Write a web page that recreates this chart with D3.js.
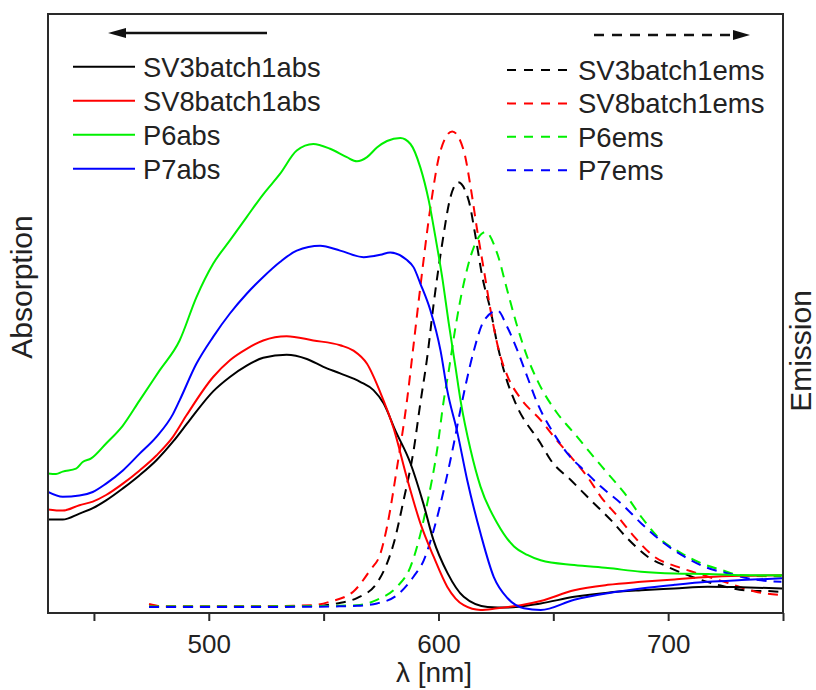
<!DOCTYPE html>
<html>
<head>
<meta charset="utf-8">
<script src="https://cdn.jsdelivr.net/npm/d3@7"></script>
<style>
  html, body { margin: 0; padding: 0; background: #fff; }
  svg { display: block; }
  text { font-family: "Liberation Sans", Arial, sans-serif; fill: #222; }
</style>
</head>
<body>
<svg id="chart" width="816" height="690"></svg>
<script>
// Wavelength (nm) / intensity (a.u.) pairs for each spectrum
const sv3Abs = [[430,15.6],[436.4,15.6],[443.7,16.6],[449.5,17.5],[455.3,18.8],[462.6,20.8],[469.9,23.0],[477.2,25.5],[484.4,28.6],[491.7,32.2],[501.9,37.0],[509.2,39.4],[516.5,41.3],[523.7,42.6],[533.9,43.1],[542.7,42.4],[549.9,41.1],[557.2,40.0],[565.9,38.6],[571.7,37.2],[576.1,35.0],[581.2,30.5],[587.8,25.0],[593.4,18.3],[597.8,12.2],[603.9,6.7],[611,2.7],[621.4,1.0],[630,0.9],[644.5,1.6],[659.1,2.7],[673.7,3.4],[688.2,3.8],[702.8,4.1],[717.3,4.4],[731.9,4.3],[750,4.1]];
const sv8Abs = [[430,17.3],[436.4,17.1],[443.7,18.0],[449.5,18.6],[455.3,19.7],[462.6,21.6],[469.9,23.8],[477.2,26.3],[484.4,29.4],[490.3,33.0],[501.9,39.4],[509.2,42.2],[516.5,44.1],[523.7,45.5],[533.9,46.2],[545.5,45.5],[557.2,44.7],[563,43.8],[568.9,41.6],[574.7,36.8],[580.5,30.8],[586.3,22.5],[592.1,15.0],[597.9,9.4],[603.8,4.4],[611,1.3],[618.3,0.5],[625.6,0.8],[635.8,1.3],[644.5,2.0],[659.1,3.8],[673.7,4.7],[688.2,5.2],[702.8,5.6],[717.3,6.0],[731.9,6.2],[750,6.3]];
const p6Abs = [[430,23.3],[433.5,23.2],[436.4,23.6],[442.2,24.1],[445.1,25.2],[448.8,25.8],[455.3,28.3],[462.6,31.3],[469.9,35.5],[478.6,40.5],[487.3,45.5],[494.6,52.7],[501.9,58.3],[509.2,62.2],[516.5,66.1],[523.7,69.9],[531,73.3],[538.3,77.2],[545.5,78.3],[552.8,77.5],[560.1,76.1],[564.5,75.4],[568.9,76.1],[573.2,77.7],[577.6,78.8],[583.4,79.3],[587.8,78.3],[592.1,74.4],[595.8,68.8],[598.7,62.7],[601.6,56.1],[604.5,48.3],[607.4,41.1],[609.6,35.5],[614,27.2],[618.3,21.1],[625.6,15.0],[632.9,11.1],[638.7,9.7],[644.5,8.8],[659.1,8.0],[673.7,7.5],[688.2,6.9],[702.8,6.6],[717.3,6.5],[731.9,6.3],[750,6.3]];
const p7Abs = [[430,20.2],[436.4,19.4],[443.7,19.6],[449.5,20.2],[455.3,21.6],[462.6,23.8],[469.9,26.6],[477.2,29.4],[484.4,33.2],[487.3,35.5],[494.6,41.6],[501.9,46.1],[509.2,50.0],[516.5,53.3],[523.7,56.1],[531,58.6],[538.3,60.5],[548.5,61.3],[557.2,60.5],[567.4,59.4],[574.7,59.8],[579,60.2],[586,59.0],[589.2,57.7],[592.1,55.0],[596.5,50.5],[600.9,43.8],[603.8,37.2],[608.2,30.2],[612.5,22.2],[618.3,13.3],[624.1,6.0],[630,2.5],[637.2,0.8],[644.5,0.5],[659.1,2.2],[673.7,3.3],[688.2,4.1],[702.8,4.7],[717.3,5.2],[731.9,5.5],[750,5.8]];

const sv3Ems = [[474,1.1],[520,1.1],[548,1.2],[555.8,1.6],[564.5,2.5],[573.2,5.0],[577.6,8.3],[580.5,11.6],[584.8,18.8],[589.2,27.2],[592.1,35.0],[595.1,42.7],[597.9,51.6],[601.6,61.6],[605.2,69.4],[608.6,71.9],[613.2,68.8],[616.2,62.7],[619.1,56.1],[622.7,50.5],[625.6,44.9],[629.3,39.4],[633.6,35.0],[644.5,28.3],[648.9,25.5],[657.6,22.2],[666.4,18.8],[675.1,15.5],[682.4,12.4],[691.1,9.4],[699.9,7.7],[710,6.1],[721.7,4.7],[733.3,3.8],[746.4,3.6],[750,3.5]];
const sv8Ems = [[474,1.5],[480,1.1],[520,1.1],[545,1.3],[552.8,1.9],[563,3.6],[570.3,7.2],[574.7,9.9],[577.6,14.4],[582,24.4],[586.3,35.5],[589.2,44.9],[592.1,54.4],[596.5,67.7],[600.9,77.2],[606,80.4],[611,77.2],[614,71.1],[616.9,63.8],[619.8,57.2],[622.7,50.5],[626.3,43.8],[630,39.6],[635.8,35.8],[644.5,32.2],[650.3,29.4],[657.6,26.1],[664.9,22.7],[670.7,19.4],[678.1,16.1],[685.3,12.7],[694,9.4],[704.2,7.7],[713,6.6],[726.1,5.0],[737.7,3.6],[749.3,3.0]];
const p6Ems = [[474,1.1],[520,1.1],[555,1.2],[564.5,1.3],[573.2,2.2],[582,4.4],[587.8,7.7],[590.7,11.1],[595.1,18.3],[599.4,27.2],[602.3,35.5],[604.5,40.5],[607.4,47.7],[611,55.0],[615.4,61.1],[620.5,63.6],[625.6,60.0],[630,53.8],[634.4,47.7],[638.7,42.7],[643.1,38.8],[651.8,33.3],[659.1,30.0],[666.4,26.6],[673.7,23.3],[681,20.0],[688.2,16.1],[695.5,12.7],[705.7,10.0],[714.4,8.3],[723.1,7.2],[731.9,6.3],[749.3,6.1]];
const p7Ems = [[474,1.0],[520,1.0],[555,1.1],[564.5,1.2],[573.2,1.6],[582,3.0],[589.2,6.1],[593.6,8.8],[597.9,13.8],[602.3,20.5],[606.7,28.3],[609.6,34.0],[611.8,38.0],[615.4,43.8],[619.8,48.8],[625.6,50.5],[630,47.7],[634.4,43.8],[638.7,39.4],[643.1,35.0],[650.3,29.9],[656.2,26.6],[663.4,23.8],[670.7,21.1],[679.5,18.3],[688.2,15.0],[698.4,11.6],[707.1,9.4],[715.9,7.7],[726.1,6.6],[739.2,5.5],[749.3,5.2]];

const absNames = ["SV3batch1abs", "SV8batch1abs", "P6abs", "P7abs"];
const emsNames = ["SV3batch1ems", "SV8batch1ems", "P6ems", "P7ems"];
const seriesColors = ["#000000", "#ff0000", "#00f000", "#0000ff"];
const xTicks = [450, 500, 550, 600, 650, 700, 750];
const xTickLabels = ["", "500", "", "600", "", "700", ""];

const absSeries = [sv3Abs, sv8Abs, p6Abs, p7Abs];
const emsSeries = [sv3Ems, sv8Ems, p6Ems, p7Ems];

// Plot box
const box = { left: 48, right: 783, top: 14, bottom: 613 };
const svg = d3.select("#chart");

const x = d3.scaleLinear().domain([430, 750]).range([box.left, box.right]);
const yAbs = d3.scaleLinear().domain([0, 100]).range([box.bottom, box.top]);
const yEms = d3.scaleLinear().domain([0, 100]).range([box.bottom, box.top]);

svg.append("defs").append("clipPath").attr("id", "plotClip")
  .append("rect")
  .attr("x", box.left).attr("y", box.top)
  .attr("width", box.right - box.left).attr("height", box.bottom - box.top);

const plot = svg.append("g").attr("clip-path", "url(#plotClip)");
const DASH = "10,7";

const absLine = d3.line().x(d => x(d[0])).y(d => yAbs(d[1])).curve(d3.curveMonotoneX);
const emsLine = d3.line().x(d => x(d[0])).y(d => yEms(d[1])).curve(d3.curveMonotoneX);

// Emission spectra (dashed)
emsSeries.forEach((s, i) => {
  plot.append("path").datum(s)
    .attr("d", emsLine)
    .attr("fill", "none")
    .attr("stroke", seriesColors[i])
    .attr("stroke-width", 2)
    .attr("stroke-dasharray", DASH);
});

// Absorption spectra (solid)
absSeries.forEach((s, i) => {
  plot.append("path").datum(s)
    .attr("d", absLine)
    .attr("fill", "none")
    .attr("stroke", seriesColors[i])
    .attr("stroke-width", 2);
});

// Frame
svg.append("rect")
  .attr("x", box.left).attr("y", box.top)
  .attr("width", box.right - box.left).attr("height", box.bottom - box.top)
  .attr("fill", "none").attr("stroke", "#2a2a2a").attr("stroke-width", 2);

// Bottom axis
const xAxis = d3.axisBottom(x)
  .tickValues(xTicks)
  .tickSize(8)
  .tickPadding(14)
  .tickFormat((d, i) => xTickLabels[i]);

const axisG = svg.append("g")
  .attr("transform", `translate(0,${box.bottom})`)
  .call(xAxis);
axisG.select(".domain").remove();
axisG.selectAll(".tick line").attr("stroke", "#2a2a2a").attr("stroke-width", 2);
axisG.selectAll(".tick text")
  .attr("font-size", 26)
  .attr("font-family", "'Liberation Sans', Arial, sans-serif")
  .attr("fill", "#222");

// Axis titles
svg.append("text")
  .attr("x", 434).attr("y", 682)
  .attr("text-anchor", "middle")
  .attr("font-size", 28)
  .text("λ [nm]");

svg.append("text")
  .attr("transform", "translate(32,287) rotate(-90)")
  .attr("text-anchor", "middle")
  .attr("font-size", 30)
  .text("Absorption");

svg.append("text")
  .attr("transform", "translate(811,351) rotate(-90)")
  .attr("text-anchor", "middle")
  .attr("font-size", 30)
  .text("Emission");

// Direction arrows: absorption reads on the left, emission on the right
svg.append("line")
  .attr("x1", 267).attr("x2", 122).attr("y1", 33).attr("y2", 33)
  .attr("stroke", "#111").attr("stroke-width", 2.5);
svg.append("path")
  .attr("d", "M108,33 L126,28 L126,38 Z")
  .attr("fill", "#111");

svg.append("line")
  .attr("x1", 594).attr("x2", 734).attr("y1", 35).attr("y2", 35)
  .attr("stroke", "#111").attr("stroke-width", 2.5)
  .attr("stroke-dasharray", "10,8");
svg.append("path")
  .attr("d", "M750,35 L733,30 L733,40 Z")
  .attr("fill", "#111");

// Legends
const legAbs = svg.append("g");
absNames.forEach((name, i) => {
  const yy = 66.7 + i * 34;
  legAbs.append("line")
    .attr("x1", 73).attr("x2", 135).attr("y1", yy).attr("y2", yy)
    .attr("stroke", seriesColors[i]).attr("stroke-width", 2);
  legAbs.append("text")
    .attr("x", 143).attr("y", yy).attr("dy", "0.36em")
    .attr("font-size", 27.3)
    .text(name);
});

const legEms = svg.append("g");
emsNames.forEach((name, i) => {
  const yy = 70 + i * 33.4;
  legEms.append("line")
    .attr("x1", 507).attr("x2", 572).attr("y1", yy).attr("y2", yy)
    .attr("stroke", seriesColors[i]).attr("stroke-width", 2)
    .attr("stroke-dasharray", "9,8");
  legEms.append("text")
    .attr("x", 578).attr("y", yy).attr("dy", "0.36em")
    .attr("font-size", 27.5)
    .text(name);
});
</script>
</body>
</html>
